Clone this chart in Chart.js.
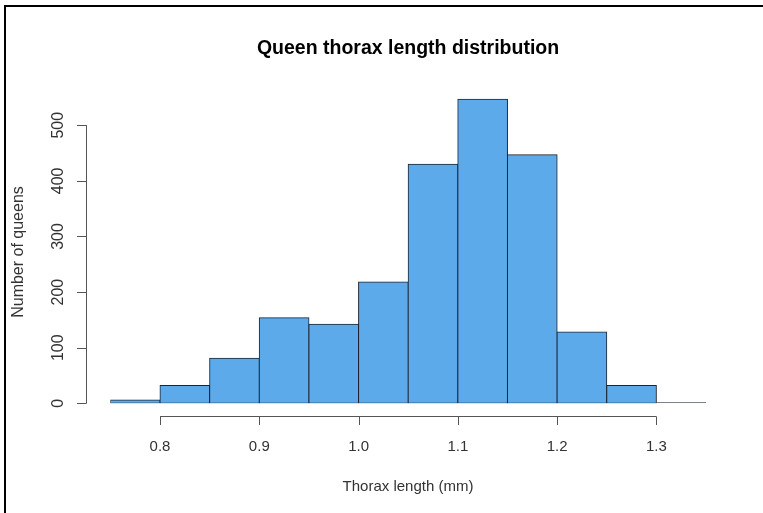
<!DOCTYPE html>
<html>
<head>
<meta charset="utf-8">
<script src="https://cdn.jsdelivr.net/npm/chart.js@4/dist/chart.umd.min.js"></script>
<style>
html,body{margin:0;padding:0;background:#fff;}
canvas{display:block;}
</style>
</head>
<body>
<canvas id="c" width="763" height="513"></canvas>
<script>
// Bin left edges (mm), width 0.05
const binStarts = [0.75, 0.80, 0.85, 0.90, 0.95, 1.00, 1.05, 1.10, 1.15, 1.20, 1.25, 1.30];
const binWidth = 0.05;
const counts = [6, 32, 81, 154, 142, 218, 430, 547, 447, 128, 32, 2];
const xTicks = [0.8, 0.9, 1.0, 1.1, 1.2, 1.3];
const xTickLabels = ["0.8", "0.9", "1.0", "1.1", "1.2", "1.3"];
const yTicks = [0, 100, 200, 300, 400, 500];
const titleText = "Queen thorax length distribution";
const xLabel = "Thorax length (mm)";
const yLabel = "Number of queens";

const points = binStarts.map((s, i) => ({ x: s + binWidth / 2, y: counts[i] }));

const FONT = '"Liberation Sans", Arial, sans-serif';

const rAxes = {
  id: 'rAxes',
  afterDraw(chart) {
    const ctx = chart.ctx;
    const xs = chart.scales.x, ys = chart.scales.y;
    ctx.save();
    // frame
    ctx.fillStyle = '#000';
    ctx.fillRect(4, 5, 2, 508);
    ctx.fillRect(4, 5, 759, 2);

    // y axis
    const ax = 86.5;
    const y0 = ys.getPixelForValue(yTicks[0]);
    const y1 = ys.getPixelForValue(yTicks[yTicks.length - 1]);
    ctx.strokeStyle = '#555';
    ctx.lineWidth = 1;
    ctx.beginPath();
    ctx.moveTo(ax, y0); ctx.lineTo(ax, y1);
    yTicks.forEach(v => {
      const p = Math.round(ys.getPixelForValue(v)) + 0.5;
      ctx.moveTo(ax, p); ctx.lineTo(77, p);
    });
    ctx.stroke();
    ctx.fillStyle = '#333';
    ctx.font = '16px ' + FONT;
    ctx.textAlign = 'center';
    ctx.textBaseline = 'middle';
    yTicks.forEach(v => {
      const p = ys.getPixelForValue(v);
      ctx.save();
      ctx.translate(59, p);
      ctx.rotate(-Math.PI / 2);
      ctx.fillText(String(v), 0, 0);
      ctx.restore();
    });
    ctx.save();
    ctx.translate(19, 252);
    ctx.rotate(-Math.PI / 2);
    ctx.fillText(yLabel, 0, 0);
    ctx.restore();

    // x axis
    ctx.font = '15px ' + FONT;
    const ay = 416.5;
    const xa = xs.getPixelForValue(xTicks[0]);
    const xb = xs.getPixelForValue(xTicks[xTicks.length - 1]);
    ctx.beginPath();
    ctx.moveTo(xa, ay); ctx.lineTo(xb, ay);
    xTicks.forEach(v => {
      const p = Math.round(xs.getPixelForValue(v)) + 0.5;
      ctx.moveTo(p, ay); ctx.lineTo(p, 425);
    });
    ctx.stroke();
    xTicks.forEach((v, i) => {
      ctx.fillText(xTickLabels[i], xs.getPixelForValue(v), 447);
    });
    ctx.fillText(xLabel, 408, 487);

    // main title
    ctx.fillStyle = '#000';
    ctx.font = 'bold 19.5px ' + FONT;
    ctx.fillText(titleText, 408, 49);
    ctx.restore();
  }
};

new Chart(document.getElementById('c'), {
  type: 'bar',
  data: {
    datasets: [{
      data: points,
      backgroundColor: '#5DAAEB',
      borderColor: '#1c2430',
      borderWidth: 1,
      inflateAmount: (c) => (c.raw && c.raw.y < 4 ? 0 : 0.5),
      barPercentage: 1,
      categoryPercentage: 1,
      borderSkipped: false
    }]
  },
  options: {
    responsive: false,
    animation: false,
    layout: { padding: { left: 110.4, right: 57, top: 91.9, bottom: 109.7 } },
    plugins: { legend: { display: false }, tooltip: { enabled: false }, title: { display: false } },
    scales: {
      x: { type: 'linear', min: 0.75, max: 1.35, display: false, offset: false },
      y: { type: 'linear', min: 0, max: 560, display: false }
    }
  },
  plugins: [rAxes]
});
</script>
</body>
</html>
